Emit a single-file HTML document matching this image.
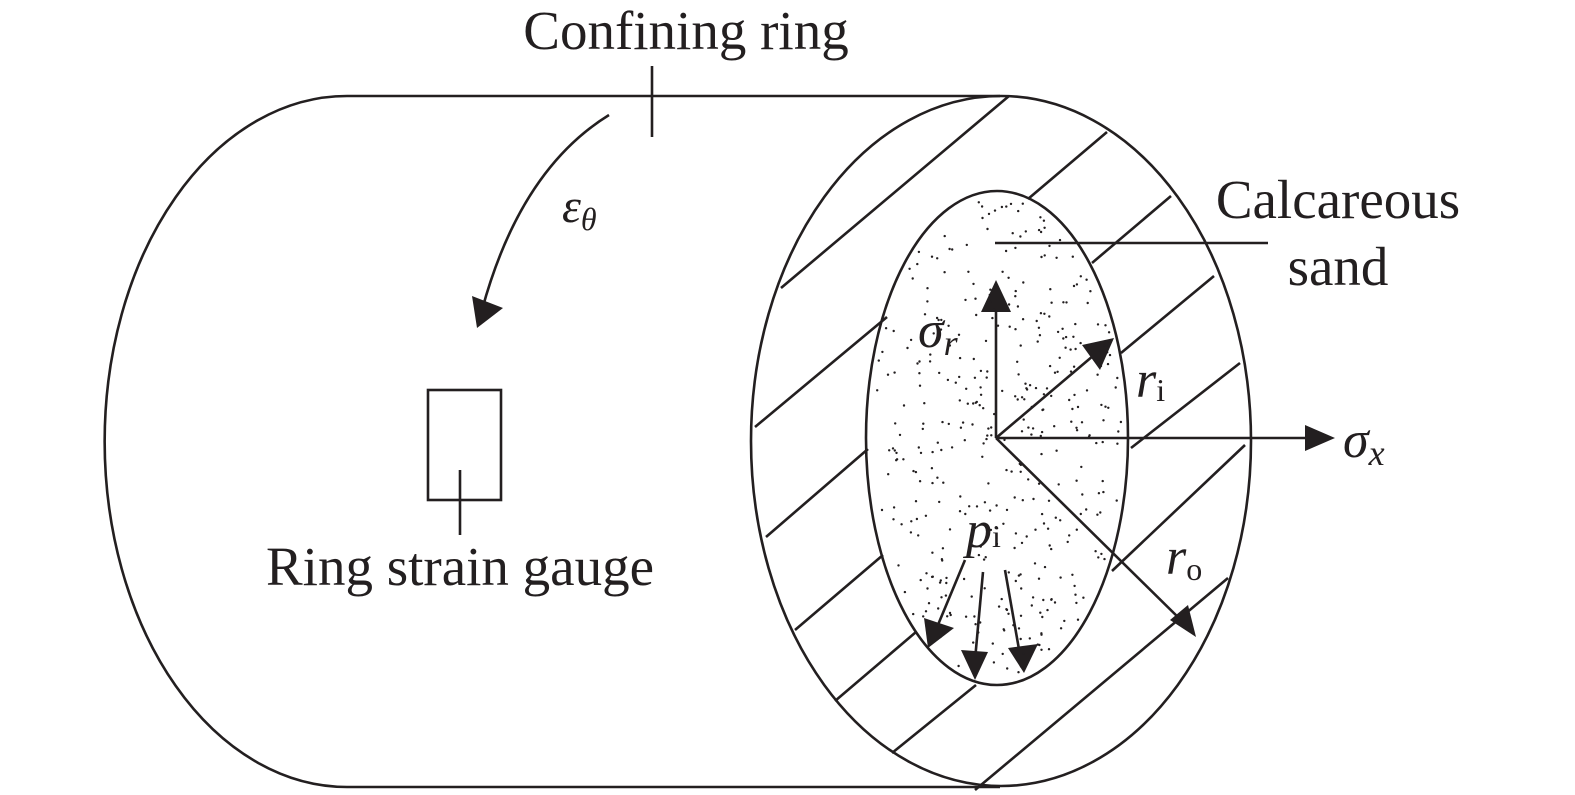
<!DOCTYPE html>
<html><head><meta charset="utf-8"><style>
html,body{margin:0;padding:0;background:#fff}
svg{display:block}
text{font-family:"Liberation Serif",serif;fill:#231f20}
</style></head><body>
<svg id="s" width="1575" height="795" viewBox="0 0 1575 795" xmlns="http://www.w3.org/2000/svg">
<g stroke="#231f20" stroke-width="2.6" fill="none">
<path d="M347,96 A242,345 0 0 0 347,787"/>
<line x1="347" y1="96" x2="1000" y2="96"/>
<line x1="347" y1="787" x2="1000" y2="787"/>
<ellipse cx="1001" cy="441" rx="250" ry="345"/>
<ellipse cx="997" cy="438" rx="131" ry="247"/>
<line x1="781" y1="288" x2="1009" y2="96"/>
<line x1="755" y1="427" x2="887" y2="317"/><line x1="1028" y1="199" x2="1107" y2="132"/>
<line x1="766" y1="537" x2="868" y2="449"/><line x1="1092" y1="263" x2="1171" y2="196"/>
<line x1="795" y1="630" x2="883" y2="555"/><line x1="1121" y1="353" x2="1214" y2="276"/>
<line x1="835" y1="701" x2="916" y2="632"/><line x1="1131" y1="448" x2="1240" y2="363"/>
<line x1="892" y1="753" x2="976" y2="685"/><line x1="1112" y1="571" x2="1245" y2="445"/>
<line x1="975" y1="790" x2="1228" y2="578"/>
<line x1="652" y1="66" x2="652" y2="137"/>
<path d="M609,115 Q520,170 482,310"/>
<rect x="428" y="390" width="73" height="110"/>
<line x1="460" y1="470" x2="460" y2="535"/>
<line x1="995" y1="243" x2="1268" y2="243"/>
<line x1="996" y1="438" x2="996" y2="295"/>
<line x1="996" y1="438" x2="1100" y2="350"/>
<line x1="996" y1="438" x2="1310" y2="438"/>
<line x1="996" y1="438" x2="1185" y2="624"/>
<line x1="965" y1="560" x2="935" y2="632"/>
<line x1="983" y1="572" x2="975" y2="660"/>
<line x1="1005" y1="570" x2="1020" y2="655"/>
</g>
<g fill="#231f20">
<polygon points="477,328 472,296 503,308"/>
<polygon points="996,280 981,312 1011,312"/>
<polygon points="1114,338 1082,345 1100,370"/>
<polygon points="1335,438 1305,425 1305,451"/>
<polygon points="1196,637 1170,620 1188,605"/>
<polygon points="928,648 924,618 954,628"/>
<polygon points="975,680 961,650 988,652"/>
<polygon points="1024,673 1008,648 1038,644"/>
</g>
<g id="dots" fill="#231f20"></g>
<text x="686" y="49" font-size="55" text-anchor="middle">Confining ring</text>
<text x="1338" y="218" font-size="55" text-anchor="middle">Calcareous</text>
<text x="1338" y="285" font-size="55" text-anchor="middle">sand</text>
<text x="460" y="585" font-size="55" text-anchor="middle">Ring strain gauge</text>
<text x="562" y="222" font-size="48" font-style="italic">ε<tspan font-size="32" dy="8">θ</tspan></text>
<text x="918" y="347" font-size="52" font-style="italic">σ<tspan font-size="36" dy="8">r</tspan></text>
<text x="1136" y="397" font-size="52" font-style="italic">r<tspan font-size="32" font-style="normal" dy="4">i</tspan></text>
<text x="1343" y="457" font-size="52" font-style="italic">σ<tspan font-size="36" dy="8">x</tspan></text>
<text x="966" y="547" font-size="52" font-style="italic">p<tspan font-size="32" font-style="normal">i</tspan></text>
<text x="1166" y="574" font-size="52" font-style="italic">r<tspan font-size="32" font-style="normal" dy="6">o</tspan></text>
</svg>
<script>
var g=document.getElementById('dots'),s=12345;function r(){s=(s*1103515245+12345)%2147483648;return s/2147483648;}
var h='';for(var i=0;i<550;i++){var x=866+r()*262,y=191+r()*494;var dx=(x-997)/126,dy=(y-438)/240;if(dx*dx+dy*dy<1){h+='<circle cx="'+x.toFixed(1)+'" cy="'+y.toFixed(1)+'" r="1.2"/>';}}
g.innerHTML=h;
</script>
</body></html>
